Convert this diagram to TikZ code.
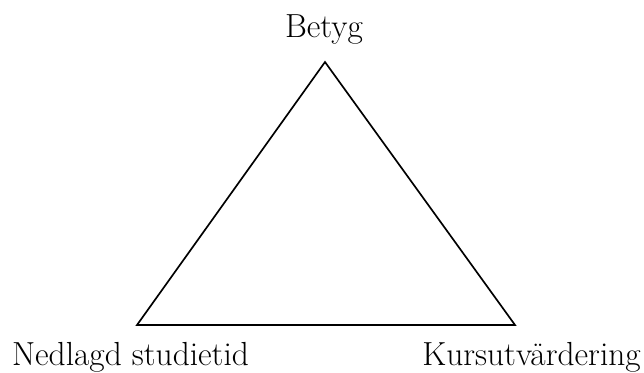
\documentclass[tikz,border=0pt]{standalone}
\usetikzlibrary{positioning}

\begin{document}
\begin{tikzpicture}[
x=0.02cm,y=-0.02cm,
lbl/.style={anchor=base,inner sep=0pt,font=\fontsize{19}{23}\selectfont},
edge/.style={line width=0.95pt,line join=miter}
]
\useasboundingbox (0,0) rectangle (644,372);
\coordinate (top) at (325,62);
\coordinate (left) at (137,325);
\coordinate (right) at (515,325);
\node[lbl] (betyg) at (324,37) {Betyg};
\node[lbl] (tid) at (130.5,365) {Nedlagd studietid};
\node[lbl] (eval) at (531.5,365) {Kursutvärdering};
\draw[edge] (top) -- (left) -- (right) -- cycle;
\end{tikzpicture}
\end{document}
